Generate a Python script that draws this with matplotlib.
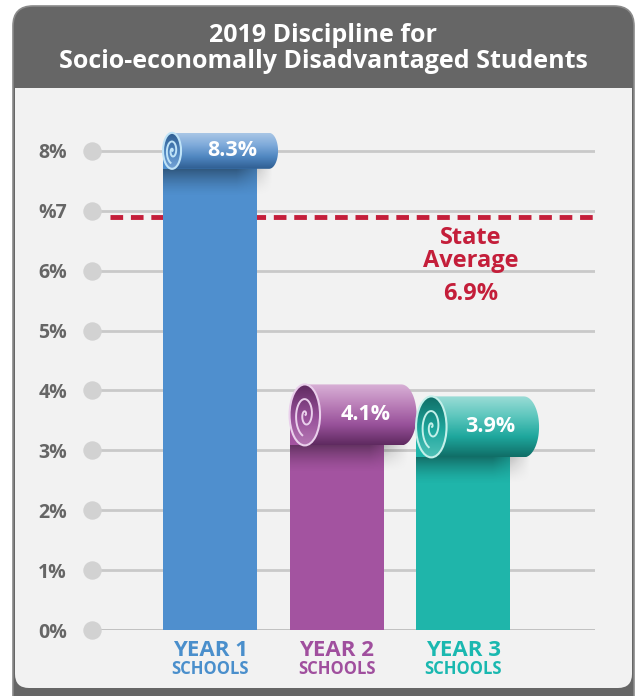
import numpy as np
import matplotlib
matplotlib.use("Agg")
import matplotlib.pyplot as plt
from matplotlib.patches import FancyBboxPatch, Rectangle, Ellipse, Polygon
from matplotlib.colors import LinearSegmentedColormap

# data
categories = ["YEAR 1", "YEAR 2", "YEAR 3"]
sublabels = ["SCHOOLS", "SCHOOLS", "SCHOOLS"]
values = [8.3, 4.1, 3.9]
value_labels = ["8.3%", "4.1%", "3.9%"]
state_avg = 6.9
yticks = [0, 1, 2, 3, 4, 5, 6, 7, 8]
ytick_labels = ["0%", "1%", "2%", "3%", "4%", "5%", "6%", "%7", "8%"]

# styles
bar_colors = ["#4f8fce", "#a353a0", "#1fb5aa"]
label_colors = ["#4a8fcc", "#a04f9e", "#1ab8b0"]
roll_cmaps = [["#a9c6e6", "#7eaada", "#4f86c0", "#2f5e92"],
              ["#d8b0d6", "#bb80b9", "#98519a", "#5f2a60"],
              ["#9adcd6", "#5cc6bd", "#1ea79d", "#106e67"]]
spiral_colors = ["#bfe3f7", "#ead0ec", "#c4f0ea"]
roll_h_px = [36, 61, 61]
roll_len_px = [115, 127, 123]
red = "#c41e3a"

plt.rcParams['font.family'] = ['Open Sans', 'DejaVu Sans']

W, H = 643, 696
fig = plt.figure(figsize=(W / 100, H / 100), dpi=100)

# card background in pixel coords
bg = fig.add_axes([0, 0, 1, 1])
bg.set_xlim(0, W)
bg.set_ylim(H, 0)
bg.axis("off")
bg.add_patch(FancyBboxPatch((13, 6), 621, 720, boxstyle="round,pad=0,rounding_size=20",
                            fc="#666666", ec="#8a8a8a", lw=1.2))
bg.add_patch(FancyBboxPatch((15, 88), 617, 600, boxstyle="round,pad=0,rounding_size=14",
                            fc="#f2f2f2", ec="none"))
bg.add_patch(Rectangle((15, 88), 617, 30, fc="#f2f2f2", ec="none"))
bg.text(323, 35, "2019 Discipline for", color="white", fontsize=18, fontweight="bold",
        ha="center", va="center")
bg.text(323, 62, "Socio-economally Disadvantaged Students", color="white", fontsize=18,
        fontweight="bold", ha="center", va="center")

# chart axes
PX_X = 126.5
PX_Y = 59.9
ax = fig.add_axes([92 / W, 66 / H, 503 / W, 520 / H])
ax.patch.set_alpha(0)
for s in ax.spines.values():
    s.set_visible(False)
ax.set_xticks([])

x = np.arange(len(values))
bw = 94 / PX_X

for t in yticks:
    ax.axhline(t, color="#c9c9c9" if t else "#bdbdbd", lw=2, zorder=1)
ax.scatter([-0.933] * len(yticks), yticks, s=150, color="#d2d2d2", zorder=2, clip_on=False)
ax.set_yticks(yticks)
ax.set_yticklabels(ytick_labels, fontsize=14, fontweight="bold", color="#666666")
ax.tick_params(axis="y", length=0, pad=18)

ax.plot([-0.79, 3.04], [state_avg, state_avg], color=red, lw=3.5, ls=(0, (2.6, 1.6)), zorder=2)
ax.text(2.06, state_avg - 21 / PX_Y, "State", color=red, fontsize=17, fontweight="bold",
        ha="center", va="center")
ax.text(2.06, state_avg - 44 / PX_Y, "Average", color=red, fontsize=17, fontweight="bold",
        ha="center", va="center")
ax.text(2.06, state_avg - 77 / PX_Y, "6.9%", color=red, fontsize=17, fontweight="bold",
        ha="center", va="center")

for i, v in enumerate(values):
    xl = x[i] - bw / 2
    h = roll_h_px[i] / PX_Y
    rl = roll_len_px[i] / PX_X
    rx = roll_h_px[i] / 4 / PX_X
    ry = h / 2
    yc = v - ry
    xr = xl + rl
    cmap = LinearSegmentedColormap.from_list("c%d" % i, roll_cmaps[i])

    # bar body
    ax.bar(x[i], yc, width=bw, color=bar_colors[i], zorder=3)
    # soft shadow under roll
    sh = np.zeros((30, 40, 4))
    fade_x = np.clip((1 - np.linspace(0, 1, 40)) * 3, 0, 1)
    sh[:, :, 3] = 0.38 * np.outer(np.linspace(1, 0, 30) ** 1.5, fade_x)
    ax.imshow(sh, extent=[xl, xr - rx * 0.5, v - h - 28 / PX_Y, v - h], aspect="auto",
              origin="upper", zorder=3.5, interpolation="bilinear")

    # roll shape
    t1 = np.linspace(np.pi / 2, -np.pi / 2, 40)
    t2 = np.linspace(-np.pi / 2, -3 * np.pi / 2, 40)
    right = np.column_stack([xr - rx + rx * np.cos(t1), yc + ry * np.sin(t1)])
    left = np.column_stack([xl + rx + rx * np.cos(t2), yc + ry * np.sin(t2)])
    poly = Polygon(np.vstack([right, left]), closed=True, fc="none", ec="none", zorder=4)
    ax.add_patch(poly)
    grad = np.linspace(0, 1, 100).reshape(-1, 1)
    im = ax.imshow(grad, cmap=cmap, extent=[xl, xr, v - h, v], aspect="auto",
                   origin="upper", zorder=4, interpolation="bilinear")
    im.set_clip_path(poly)

    # end face with spiral
    face = Ellipse((xl + rx, yc), 2 * rx, h, fc="none", ec=spiral_colors[i], lw=1.5, zorder=6)
    ax.add_patch(face)
    im2 = ax.imshow(grad[::-1] * 0.6 + 0.4, cmap=cmap, vmin=0, vmax=1,
                    extent=[xl, xl + 2 * rx, v - h, v], aspect="auto", origin="upper",
                    zorder=5, interpolation="bilinear")
    im2.set_clip_path(face)
    th = np.linspace(0, 3.4 * np.pi, 200)
    r = 0.7 * th / th.max()
    ax.plot(xl + rx * 1.05 + rx * r * np.cos(th), yc + ry * r * np.sin(th),
            color=spiral_colors[i], lw=1.4, zorder=7)

    ax.text(xl + 0.6 * rl, yc, value_labels[i], color="white",
            fontsize=15.5, fontweight="bold", ha="center", va="center", zorder=8)

    ax.text(x[i], -20 / PX_Y, categories[i], color=label_colors[i], fontsize=16,
            fontweight="bold", ha="center", va="center", clip_on=False)
    ax.text(x[i], -39 / PX_Y, sublabels[i], color=label_colors[i], fontsize=12,
            fontweight="bold", ha="center", va="center", clip_on=False)

ax.set_xlim(-0.933, 3.043)
ax.set_ylim(0, 520 / PX_Y)

fig.savefig("out.png", dpi=100)
